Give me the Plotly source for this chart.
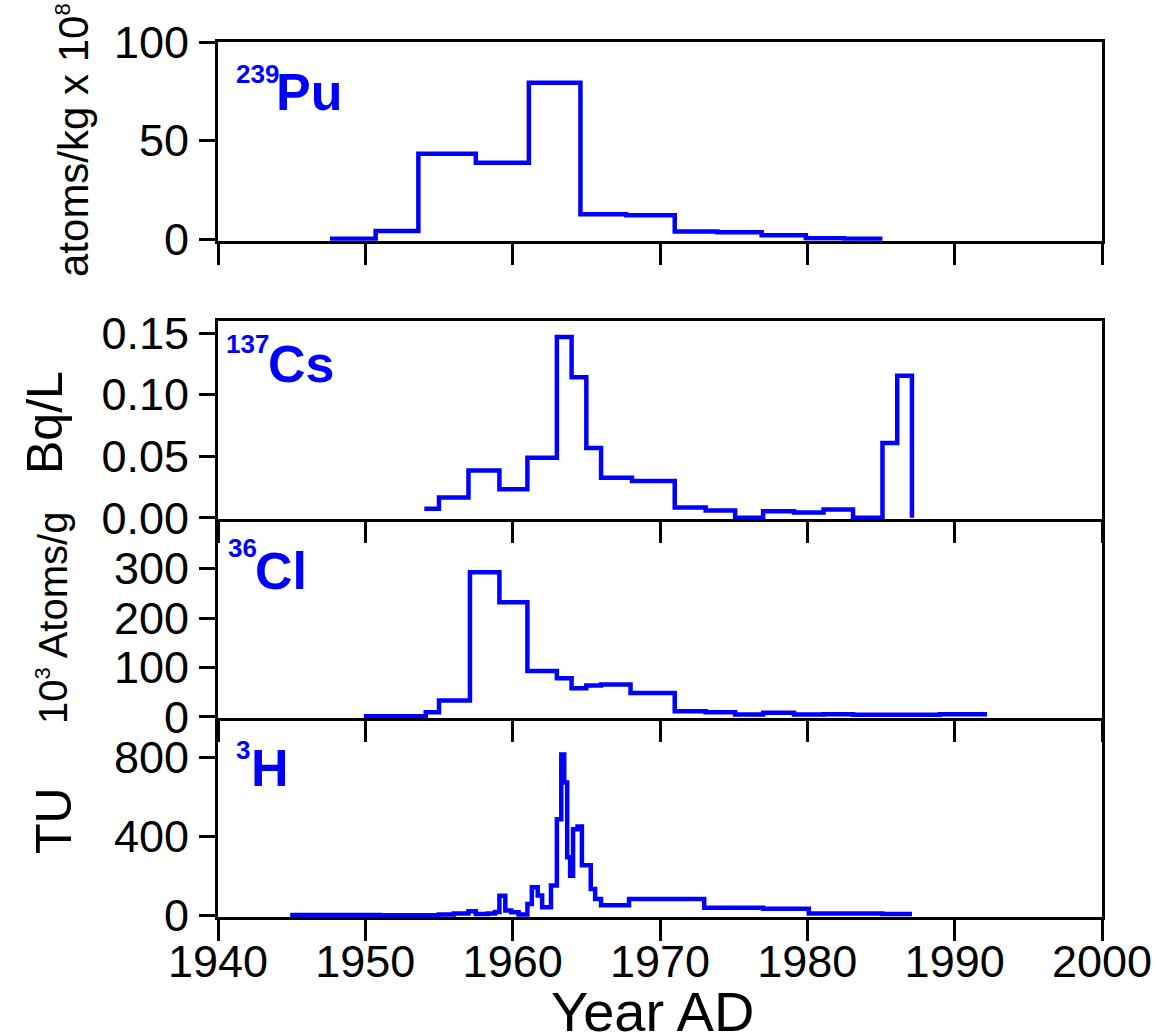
import plotly.graph_objects as go

# ---------------- data (step series: bin start years, last entry = end of last bin) ----------------
pu_year = [1947.6, 1950.7, 1953.6, 1957.5, 1961.1, 1964.6, 1967.7, 1971.0, 1973.9, 1976.9, 1979.9, 1982.5, 1985.1]
pu_val = [0.3, 4.2, 43.3, 38.8, 79.3, 12.6, 12.1, 3.9, 3.5, 2.0, 0.5, 0.3, 0.3]

cs_year = [1954.0, 1955.0, 1957.0, 1959.1, 1961.0, 1963.0, 1964.0, 1965.0, 1966.0, 1968.1,
           1971.0, 1973.1, 1975.1, 1977.0, 1979.1, 1981.1, 1983.1, 1985.1, 1986.1, 1987.1]
cs_val = [0.0073, 0.0164, 0.0384, 0.0231, 0.0487, 0.1468, 0.1142, 0.0567, 0.0325, 0.0298,
          0.0083, 0.0059, 0.0, 0.0054, 0.0043, 0.0067, 0.0, 0.0608, 0.1153, 0.0]

cl_year = [1949.9, 1952.0, 1954.1, 1955.0, 1957.1, 1959.1, 1961.0, 1963.0, 1964.0, 1965.0, 1966.0,
           1968.0, 1971.0, 1973.1, 1975.1, 1977.0, 1979.1, 1981.1, 1983.1, 1985.1, 1987.0, 1989.0, 1992.2]
cl_val = [1, 1, 9.5, 33, 293, 232, 92.6, 78, 58, 63.5, 65.5,
          48, 11.5, 9.5, 4.7, 8, 4.7, 5.4, 4, 4, 4, 5, 5]

h_year = [1944.9, 1951.0, 1955.0, 1956.0, 1957.0, 1957.5, 1958.3, 1958.8, 1959.1, 1959.5, 1959.9,
          1960.4, 1961.0, 1961.3, 1961.7, 1962.0, 1962.6, 1963.0, 1963.3, 1963.5, 1963.7, 1963.9,
          1964.1, 1964.4, 1964.7, 1965.3, 1965.6, 1966.0, 1967.9, 1973.0, 1977.0, 1980.1, 1985.1, 1987.1]
h_val = [3, 1, 5, 10, 22, 8, 10, 18, 100, 25, 17,
         5, 59, 143, 101, 42, 152, 488, 817, 674, 295, 202,
         438, 451, 255, 135, 84, 52, 84, 39, 34, 10, 8, 8]

x_ticks = [1940, 1950, 1960, 1970, 1980, 1990, 2000]
pu_ticks = [0, 50, 100]
cs_ticks = [0, 0.05, 0.10, 0.15]
cl_ticks = [0, 100, 200, 300]
h_ticks = [0, 400, 800]

# ---------------- figure ----------------
W, H = 1155, 1035
L, R, T, B = 218, 53, 42, 118
FONT = "Liberation Sans, Arial, sans-serif"
BLUE = "#0000FF"


def px(X):
    return (X - L) / (W - L - R)


def py(Y):
    return (H - B - Y) / (H - T - B)


fig = go.Figure()
series = [(pu_year, pu_val), (cs_year, cs_val), (cl_year, cl_val), (h_year, h_val)]
for i, (xs, ys) in enumerate(series, start=1):
    fig.add_trace(go.Scatter(
        x=xs, y=ys, mode="lines", line=dict(color=BLUE, width=4.5, shape="hv"),
        xaxis="x" if i == 1 else f"x{i}", yaxis="y" if i == 1 else f"y{i}",
        showlegend=False, hoverinfo="skip"))

domains = [
    [py(240.7), 1.0],
    [py(519.3), py(320.7)],
    [py(718.3), py(519.3)],
    [0.0, py(718.3)],
]
ranges = [[-0.75, 100], [-0.0012, 0.16], [-3, 400], [-7.5, 1000]]
yticks = [pu_ticks, cs_ticks, cl_ticks, h_ticks]
yfmt = ["", ".2f", "", ""]
x_mirror = [True, True, False, False]   # lower panels share their top edge with the panel above

axis_common = dict(showline=True, linecolor="black", linewidth=3,
                   showgrid=False, zeroline=False, ticks="outside", tickcolor="black",
                   tickwidth=3, layer="below traces", automargin=False,
                   ticklabeloverflow="allow",
                   tickfont=dict(family=FONT, size=45, color="black"))

layout = {}
for i in range(4):
    xa = "xaxis" if i == 0 else f"xaxis{i + 1}"
    ya = "yaxis" if i == 0 else f"yaxis{i + 1}"
    yname = "y" if i == 0 else f"y{i + 1}"
    xname = "x" if i == 0 else f"x{i + 1}"
    layout[xa] = dict(axis_common, range=[1940, 2000], tickvals=x_ticks, ticklen=21,
                      anchor=yname, domain=[0, 1], showticklabels=(i == 3),
                      mirror=x_mirror[i], ticklabelstandoff=-18)
    layout[ya] = dict(axis_common, range=ranges[i], tickvals=yticks[i], ticklen=16,
                      anchor=xname, domain=domains[i], tickformat=yfmt[i],
                      mirror=True, ticklabelstandoff=1)

fig.update_layout(**layout)

ann = []


def label(text, X_left, Y_base, size, bold=True):
    ann.append(dict(
        text=f"<b>{text}</b>" if bold else text, xref="paper", yref="paper",
        x=px(X_left - 1 - 0.05 * size), y=py(Y_base - 0.3465 * size),
        xanchor="left", yanchor="middle", showarrow=False,
        font=dict(family=FONT, size=size, color=BLUE)))


label("239", 236.5, 83.5, 26)
label("Pu", 278, 110.5, 52)
label("137", 226.5, 353, 26)
label("Cs", 269.5, 382, 52)
label("36", 228.3, 557.5, 26)
label("Cl", 257, 588.7, 52)
label("3", 236.5, 759, 26)
label("H", 252.5, 786.3, 52)


def ytitle(text, Xc, Yc, size):
    ann.append(dict(
        text=text, xref="paper", yref="paper", x=px(Xc), y=py(Yc),
        xanchor="center", yanchor="middle", textangle=-90, showarrow=False,
        font=dict(family=FONT, size=size, color="black")))


ytitle('atoms/kg x 10<sup><span style="font-size:22px">8</span></sup>', 73, 140, 42)
ytitle("Bq/L", 45, 423, 50)
ytitle('10<sup><span style="font-size:22px">3</span></sup> Atoms/g', 52, 618, 40)
ytitle("TU", 54, 821, 50)

ann.append(dict(text="Year AD", xref="paper", yref="paper", x=px(652), y=py(1011),
                xanchor="center", yanchor="middle", showarrow=False,
                font=dict(family=FONT, size=56, color="black")))

fig.update_layout(
    width=W, height=H, autosize=False,
    margin=dict(l=L, r=R, t=T, b=B, pad=0, autoexpand=False),
    paper_bgcolor="white", plot_bgcolor="rgba(0,0,0,0)",
    annotations=ann, showlegend=False,
    font=dict(family=FONT, color="black"),
)

fig.write_html(
    "out.html",
    config={"displayModeBar": False, "responsive": False},
    post_script=("document.body.style.margin='0';document.body.style.padding='0';"
                 "document.body.style.overflow='hidden';"
                 "document.documentElement.style.overflow='hidden';"),
)
